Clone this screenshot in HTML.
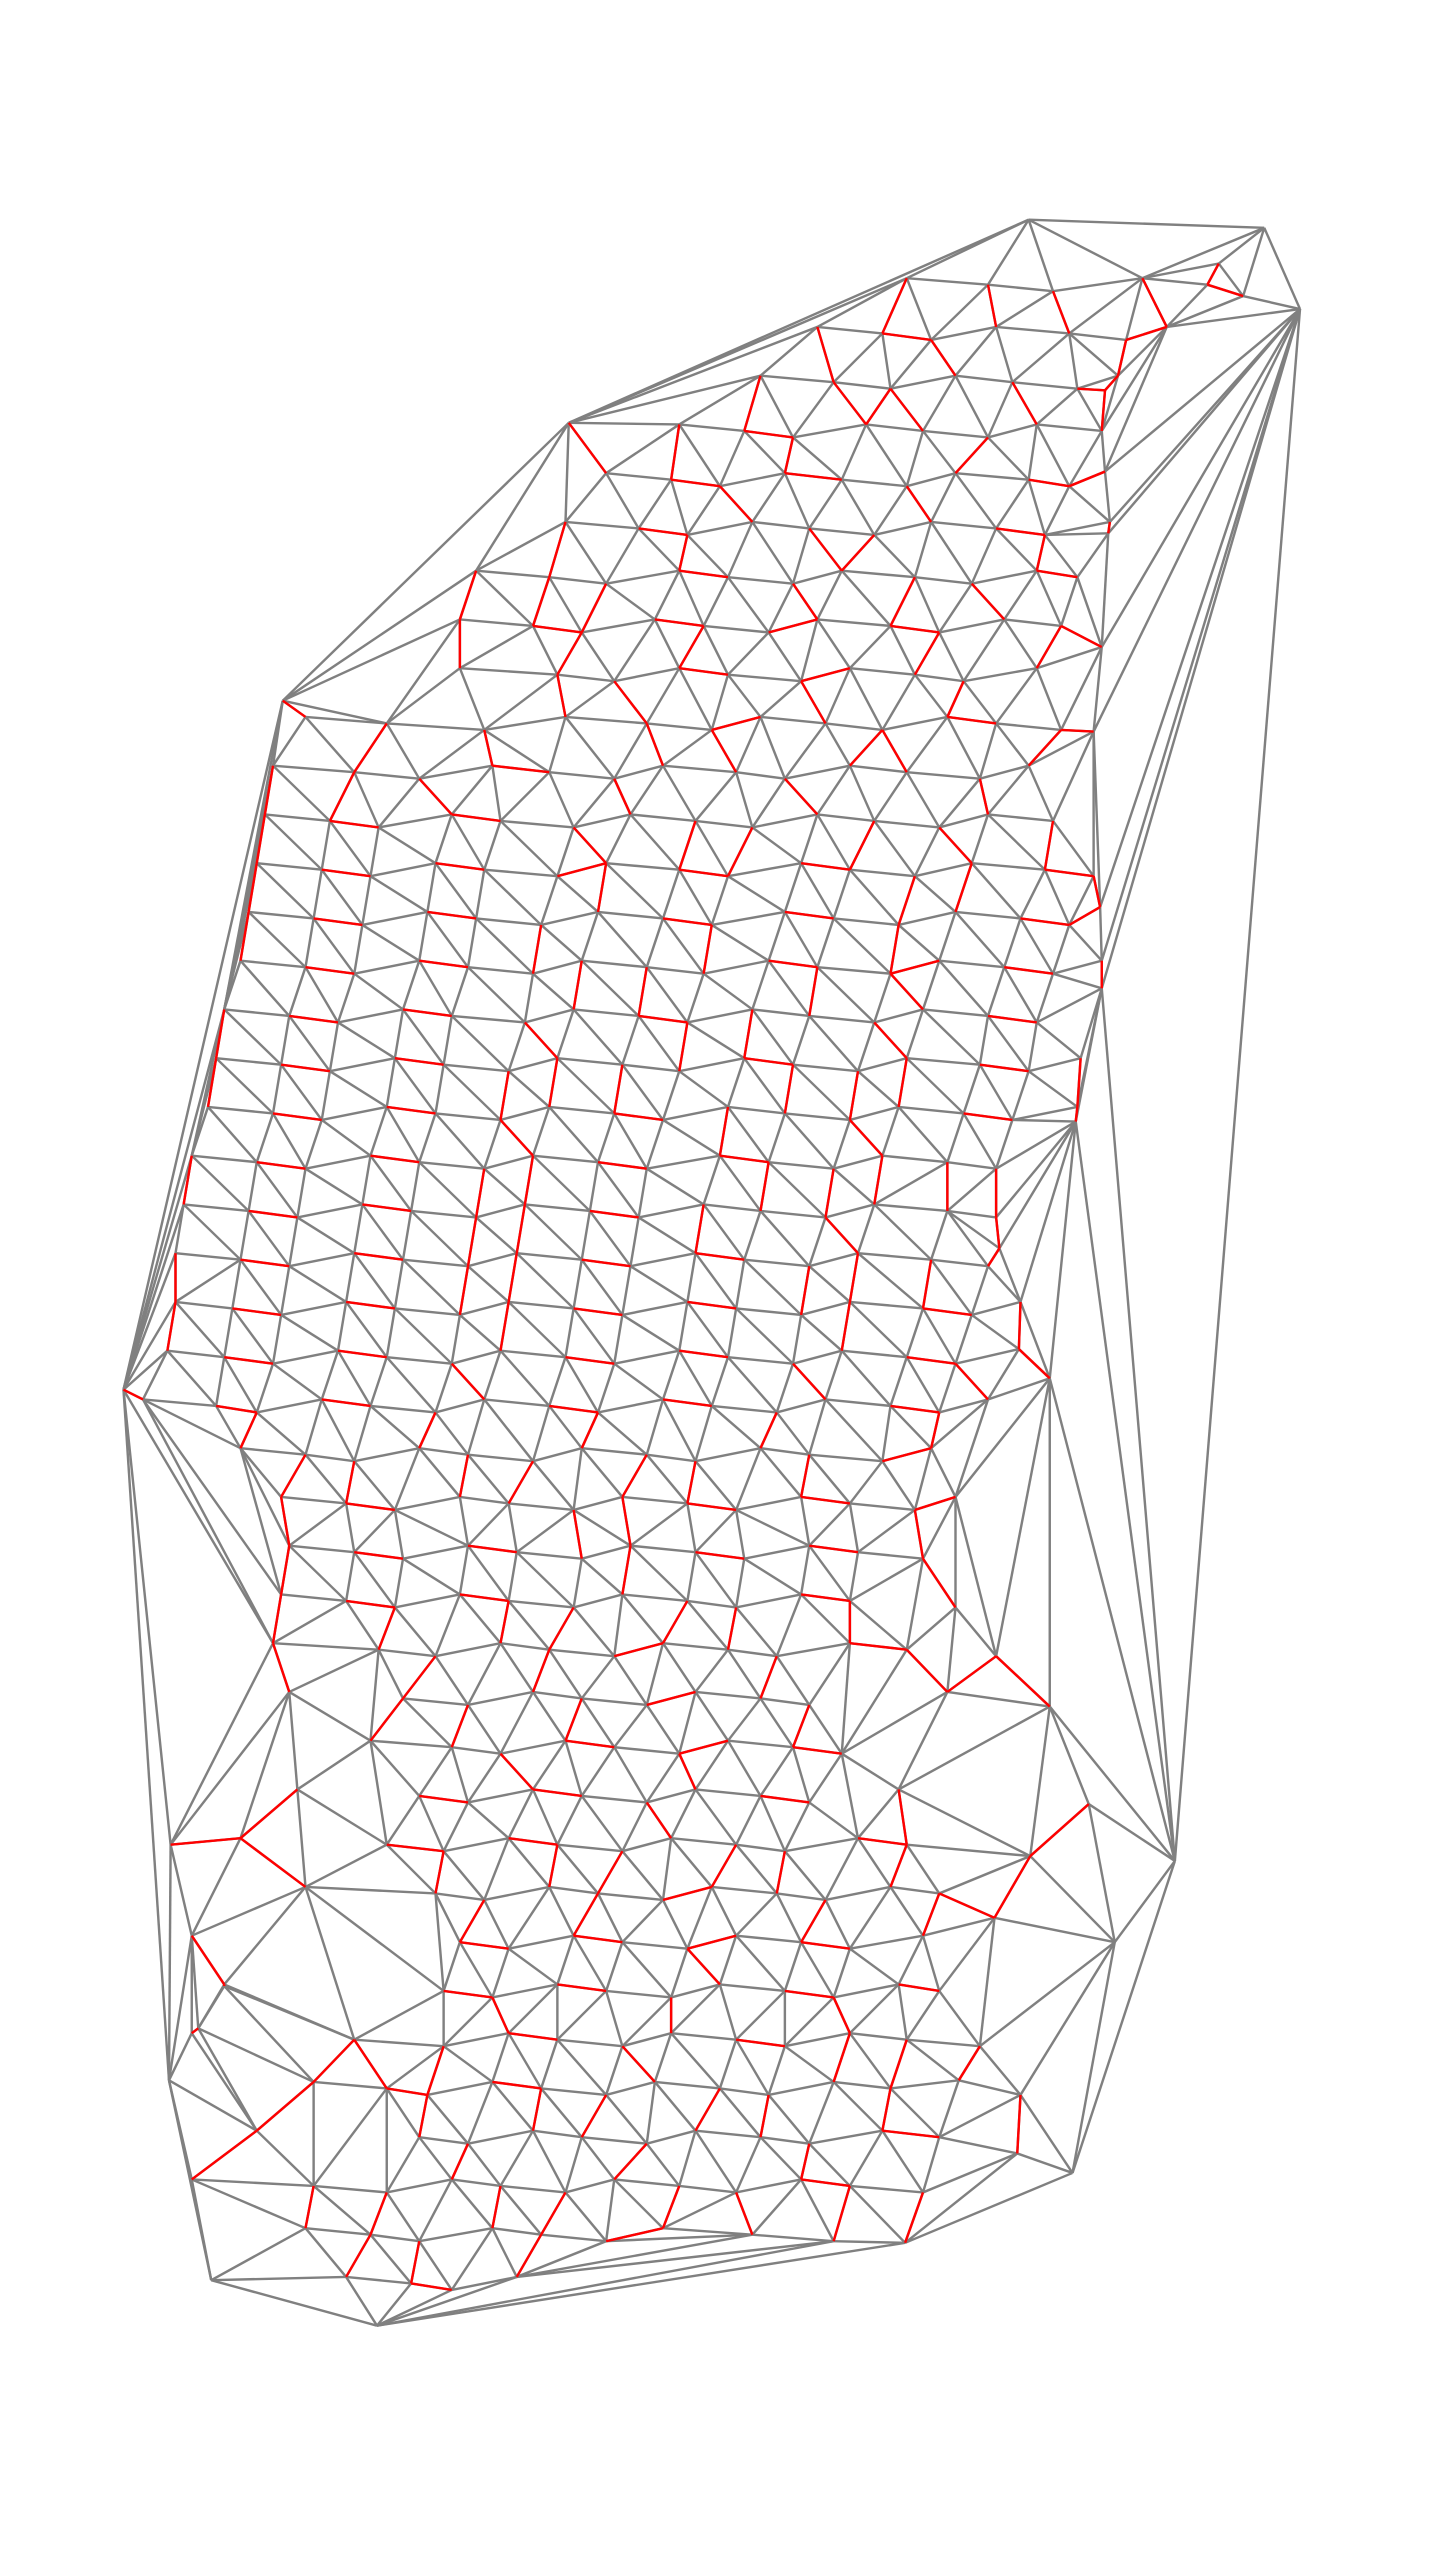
<!DOCTYPE html>
<html><head><meta charset="utf-8"><title>Delaunay triangulation with red edges</title>
<style>html,body{margin:0;padding:0;background:#fff}svg{display:block}</style></head>
<body>
<svg id="chart" width="1430" height="2560" viewBox="0 0 880 1575" xmlns="http://www.w3.org/2000/svg">
<g id="gray" stroke="#808080" stroke-width="1.5" fill="none"></g>
<g id="red" stroke="#ff0000" stroke-width="1.5" fill="none"></g>
</svg>
<script>
const hullPoints = [[633,135],[778,140],[800,190],[723,1145],[660,1337],[557,1380],[232,1431],[130,1403],[104,1280],[76,855],[174,431],[350,260]];
const sparsePoints = [[680,240],[680,290],[682,328],[678,398],[673,450],[677,558],[678,608],[662,690],[615,768],[627,830],[646,848],[646,1050],[670,1110],[634,1142],[612,1180],[590,1280],[626,1325],[105,1135],[122,1248],[138,1222],[750,162],[765,182]];
const rowY = [175,205,235,265,295,325,355,385,415,445,475,505,535,565,595,625,655,685,715,745,775,805,835,865,895,925,955,985,1015,1045,1075,1105,1135,1165,1195,1225,1255,1285,1315,1345,1375,1405];
const rowX = [
[560,605,650,700,745],
[505,540,575,610,660,690,720],
[470,510,550,585,625,660,690],
[420,455,490,530,570,605,640,675],
[375,410,445,480,520,555,590,630,660],
[350,390,425,460,500,535,575,610,645,680],
[295,335,375,415,450,485,520,560,600,635,665],
[285,325,360,400,435,470,505,545,580,615,655],
[285,340,380,415,450,490,525,560,595,635],
[190,235,300,345,400,435,470,505,545,580,615,650],
[170,215,260,300,340,375,410,450,485,520,560,600,635],
[165,200,235,275,310,350,390,425,465,500,540,575,610,645],
[160,195,230,265,300,340,375,415,450,490,525,560,600,640,675],
[155,190,225,260,295,330,370,405,440,480,515,550,590,625,660],
[150,185,220,255,290,325,360,395,435,470,505,545,580,615,650,675],
[140,175,210,245,280,320,355,390,425,460,500,535,570,605,640],
[135,170,205,240,275,310,345,380,420,455,490,525,560,600,635,662],
[130,165,200,235,270,305,340,375,410,445,485,520,555,590,625,660],
[120,155,190,225,260,295,330,365,400,440,475,510,545,580,615],
[115,150,185,220,255,290,325,360,395,430,470,505,540,580,615],
[110,145,180,215,250,285,320,355,390,425,460,495,530,570,610],
[110,140,175,210,245,280,315,350,385,420,455,490,525,565,600,625],
[105,135,170,205,240,275,310,345,380,415,450,485,520,555,590],
[90,130,160,195,230,265,300,335,370,405,440,475,510,545,580,605],
[150,185,220,255,290,325,360,395,430,465,500,540,575],
[175,210,245,280,315,350,385,420,455,490,525,560,590],
[180,215,250,285,320,355,390,425,460,495,530,565],
[175,210,245,280,315,350,385,420,455,490,525,585],
[170,230,270,305,340,375,410,445,480,520,560,610],
[180,245,290,325,360,395,430,465,500,580],
[230,275,310,345,380,415,450,485,520],
[185,255,290,325,360,395,430,465,500,550],
[150,235,275,310,345,380,415,450,485,525,560],
[190,265,300,335,370,405,440,475,510,545,580],
[120,280,315,350,385,420,455,490,525,565,688],
[140,270,305,340,375,410,445,480,515,550,580],
[120,215,275,310,345,380,415,450,485,520,560,600],
[195,235,265,300,335,370,405,440,475,510,550,625],
[160,255,290,325,360,395,430,465,500,540,580],
[120,190,240,275,310,345,380,415,455,490,525,565],
[190,225,260,300,335,370,410,460,515],
[215,250,280,315]
];

const pts = [];
hullPoints.forEach(p => pts.push([p[0], p[1], true]));
sparsePoints.forEach(p => pts.push([p[0], p[1], false]));
rowY.forEach((y, r) => rowX[r].forEach((x, k) => pts.push([x + ((k % 2) ? 3 : -2), y + ((k % 3) - 1) * 4, false])));

// Bowyer-Watson triangulation
function circum(a, b, c) {
  const d = 2 * (a[0]*(b[1]-c[1]) + b[0]*(c[1]-a[1]) + c[0]*(a[1]-b[1]));
  const a2 = a[0]*a[0]+a[1]*a[1], b2 = b[0]*b[0]+b[1]*b[1], c2 = c[0]*c[0]+c[1]*c[1];
  const ux = (a2*(b[1]-c[1]) + b2*(c[1]-a[1]) + c2*(a[1]-b[1])) / d;
  const uy = (a2*(c[0]-b[0]) + b2*(a[0]-c[0]) + c2*(b[0]-a[0])) / d;
  return [ux, uy, (a[0]-ux)**2 + (a[1]-uy)**2];
}
const P = pts.map(p => [p[0], p[1]]);
const n = P.length;
P.push([-20000, -20000], [20000, -20000], [0, 30000]);
let tris = [[n, n+1, n+2]];
tris[0].c = circum(P[n], P[n+1], P[n+2]);
for (let i = 0; i < n; i++) {
  const p = P[i];
  const bad = [], keep = [];
  for (const t of tris) {
    const c = t.c;
    if ((p[0]-c[0])**2 + (p[1]-c[1])**2 < c[2]) bad.push(t); else keep.push(t);
  }
  const ec = new Map();
  for (const t of bad) for (let e = 0; e < 3; e++) {
    const a = t[e], b = t[(e+1)%3];
    const k = a < b ? a + ',' + b : b + ',' + a;
    ec.set(k, (ec.get(k) || 0) + 1);
  }
  for (const t of bad) for (let e = 0; e < 3; e++) {
    const a = t[e], b = t[(e+1)%3];
    const k = a < b ? a + ',' + b : b + ',' + a;
    if (ec.get(k) === 1) { const nt = [a, b, i]; nt.c = circum(P[a], P[b], i === i ? P[i] : P[i]); keep.push(nt); }
  }
  tris = keep;
}
const edges = new Map();
for (const t of tris) {
  if (t[0] >= n || t[1] >= n || t[2] >= n) continue;
  for (let e = 0; e < 3; e++) {
    const a = t[e], b = t[(e+1)%3];
    const k = a < b ? a + ',' + b : b + ',' + a;
    edges.set(k, [Math.min(a,b), Math.max(a,b)]);
  }
}
const NS = 'http://www.w3.org/2000/svg';
const gray = document.getElementById('gray'), red = document.getElementById('red');
const nn = new Array(n).fill(-1), nd = new Array(n).fill(Infinity);
edges.forEach(([a, b]) => {
  const d = Math.hypot(P[a][0]-P[b][0], P[a][1]-P[b][1]);
  if (d < nd[a]) { nd[a] = d; nn[a] = b; }
  if (d < nd[b]) { nd[b] = d; nn[b] = a; }
  const l = document.createElementNS(NS, 'line');
  l.setAttribute('x1', P[a][0]); l.setAttribute('y1', P[a][1]);
  l.setAttribute('x2', P[b][0]); l.setAttribute('y2', P[b][1]);
  
  
  gray.appendChild(l);
});
const redDone = new Set();
for (let i = 0; i < n; i++) {
  const j = nn[i];
  if (j < 0 || pts[i][2] || nd[i] > 60) continue;
  const k = Math.min(i,j) + ',' + Math.max(i,j);
  if (redDone.has(k)) continue;
  redDone.add(k);
  const l = document.createElementNS(NS, 'line');
  l.setAttribute('x1', P[i][0]); l.setAttribute('y1', P[i][1]);
  l.setAttribute('x2', P[j][0]); l.setAttribute('y2', P[j][1]);
  
  
  red.appendChild(l);
}
</script>
</body></html>
